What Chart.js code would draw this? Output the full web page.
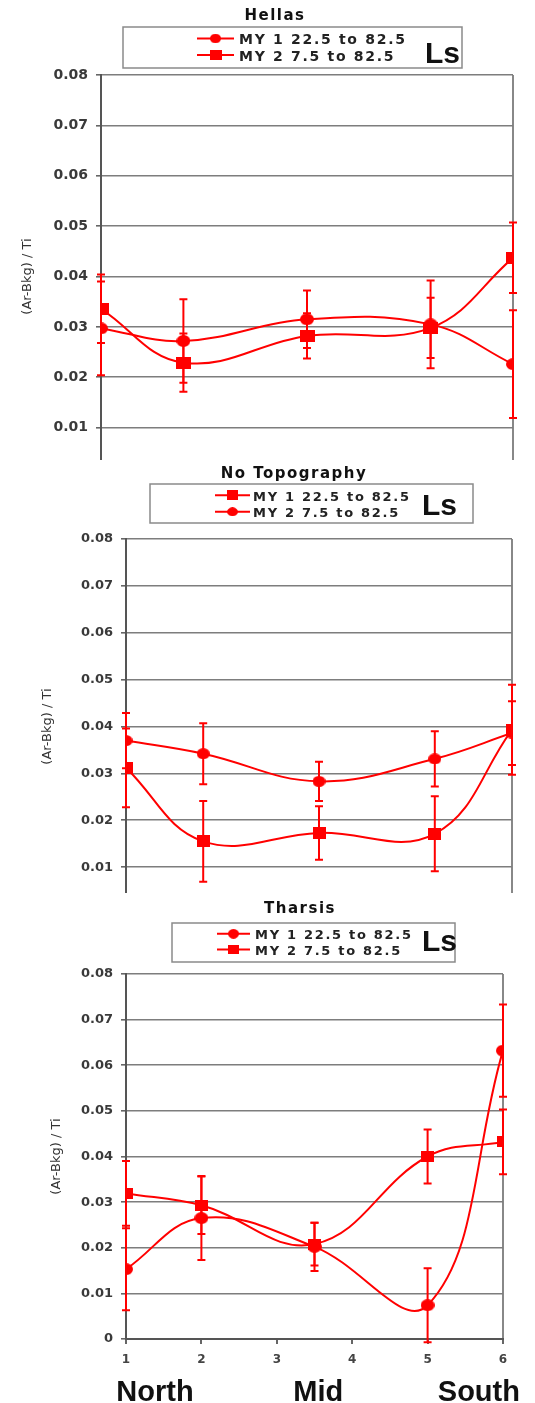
<!DOCTYPE html>
<html>
<head>
<meta charset="utf-8">
<script src="https://cdn.jsdelivr.net/npm/chart.js@4/dist/chart.umd.min.js"></script>
<style>
html,body{margin:0;padding:0;background:#fff;}
body{width:535px;height:1403px;position:relative;overflow:hidden;}
.panel{position:absolute;left:0;width:535px;overflow:hidden;}
.panel canvas{position:absolute;left:0;top:0;}
</style>
</head>
<body>
<div class="panel" style="top:0;height:460px"><canvas id="c1" width="535" height="542"></canvas></div>
<div class="panel" style="top:460px;height:433px"><canvas id="c2" width="535" height="518"></canvas></div>
<div class="panel" style="top:900px;height:503px"><canvas id="c3" width="535" height="503"></canvas></div>
<script>
// ---------- data ----------
const xPositions = [1, 2, 3.5, 5, 6];
const xTickLabels = ['1', '2', '3', '4', '5', '6'];
const regionLabels = ['North', 'Mid', 'South'];
const panelTitles = ['Hellas', 'No Topography', 'Tharsis'];
const seriesNames = ['MY 1 22.5 to 82.5', 'MY 2 7.5 to 82.5'];
const legendUnit = 'Ls';
const yAxisTitle = '(Ar-Bkg) / Ti';

const hellasMY1    = [0.0297, 0.0272, 0.0315, 0.0305, 0.0226];
const hellasMY1Err = [0.0093, 0.0083, 0.0057, 0.0087, 0.0107];
const hellasMY2    = [0.0336, 0.0229, 0.0282, 0.0298, 0.0437];
const hellasMY2Err = [0.0068, 0.0058, 0.0045, 0.0060, 0.0070];

const noTopoMY1    = [0.0312, 0.0155, 0.0173, 0.0171, 0.0393];
const noTopoMY1Err = [0.0084, 0.0086, 0.0057, 0.0080, 0.0096];
const noTopoMY2    = [0.0370, 0.0342, 0.0283, 0.0331, 0.0386];
const noTopoMY2Err = [0.0059, 0.0065, 0.0042, 0.0059, 0.0068];

const tharsisMY1    = [0.0153, 0.0265, 0.0202, 0.0074, 0.0632];
const tharsisMY1Err = [0.0090, 0.0092, 0.0053, 0.0081, 0.0101];
const tharsisMY2    = [0.0319, 0.0293, 0.0208, 0.0400, 0.0432];
const tharsisMY2Err = [0.0071, 0.0063, 0.0047, 0.0059, 0.0071];

// ---------- styles ----------
const RED = '#ff0000';
function makeMarker(shape, w, h) {
  const c = document.createElement('canvas');
  c.width = w; c.height = h;
  const g = c.getContext('2d');
  g.fillStyle = RED;
  if (shape === 'rect') { g.fillRect(0, 0, w, h); }
  else { g.beginPath(); g.ellipse(w / 2, h / 2, w / 2, h / 2, 0, 0, Math.PI * 2); g.fill(); }
  return c;
}

const errorBarPlugin = {
  id: 'errorBars',
  beforeDatasetsDraw(chart, args, opts) {
    const {ctx, scales: {x, y}} = chart;
    ctx.save();
    chart.data.datasets.forEach(ds => {
      ctx.strokeStyle = ds.borderColor;
      ctx.lineWidth = 2;
      ds.data.forEach((pt, i) => {
        const e = ds.errors[i];
        const px = x.getPixelForValue(pt.x);
        const yt = y.getPixelForValue(pt.y + e);
        const yb = y.getPixelForValue(pt.y - e);
        ctx.beginPath();
        ctx.moveTo(px, yt); ctx.lineTo(px, yb);
        ctx.moveTo(px - 4, yt); ctx.lineTo(px + 4, yt);
        ctx.moveTo(px - 4, yb); ctx.lineTo(px + 4, yb);
        ctx.stroke();
      });
    });
    ctx.restore();
  }
};

const decoPlugin = {
  id: 'deco',
  afterDraw(chart, args, o) {
    const ctx = chart.ctx;
    ctx.save();
    // panel title
    ctx.fillStyle = '#111';
    ctx.font = 'bold 15px "DejaVu Sans"';
    ctx.letterSpacing = '1.5px';
    ctx.textAlign = 'center';
    ctx.textBaseline = 'alphabetic';
    ctx.fillText(o.title, o.titleX, o.titleY);
    // legend box
    const [bx1, by1, bx2, by2] = o.box;
    ctx.strokeStyle = '#8a8a8a';
    ctx.lineWidth = 1.5;
    ctx.strokeRect(bx1, by1, bx2 - bx1, by2 - by1);
    // legend rows
    chart.data.datasets.forEach((ds, i) => {
      const base = o.rows[i];
      const cy = base - 5.5;
      ctx.strokeStyle = ds.borderColor;
      ctx.lineWidth = 2;
      ctx.beginPath();
      ctx.moveTo(o.markerX[0], cy); ctx.lineTo(o.markerX[1], cy);
      ctx.stroke();
      const img = ds.pointStyle;
      const w = img.width * 0.8, h = img.height * 0.8;
      ctx.drawImage(img, (o.markerX[0] + o.markerX[1]) / 2 - w / 2, cy - h / 2, w, h);
      ctx.font = 'bold ' + o.textSize + 'px "DejaVu Sans"';
      ctx.letterSpacing = '1.7px';
      ctx.textAlign = 'left';
      ctx.fillStyle = '#222';
      ctx.fillText(ds.label, o.textX, base);
    });
    // unit
    ctx.letterSpacing = '0px';
    ctx.font = 'bold 30px "Liberation Sans"';
    ctx.fillStyle = '#111';
    ctx.textAlign = 'left';
    ctx.fillText(legendUnit, o.lsX, o.lsY);
    // region labels under x axis
    if (o.regions) {
      const x = chart.scales.x;
      ctx.font = 'bold 29px "Liberation Sans"';
      ctx.textAlign = 'center';
      regionLabels.forEach((t, i) => {
        ctx.fillText(t, x.getPixelForValue(o.regions[i]), o.regionY);
      });
    }
    ctx.restore();
  }
};

function toPoints(vals) { return vals.map((v, i) => ({x: xPositions[i], y: v})); }

function buildChart(cfg) {
  const datasets = cfg.series.map((s, i) => ({
    label: seriesNames[i],
    data: toPoints(s.values),
    errors: s.errors,
    borderColor: RED,
    backgroundColor: RED,
    borderWidth: 2,
    tension: 0.4,
    pointStyle: s.marker,
    pointRadius: 6,
    pointHoverRadius: 6,
    showLine: true,
    fill: false
  }));
  return new Chart(document.getElementById(cfg.id), {
    type: 'scatter',
    data: {datasets},
    plugins: [errorBarPlugin, decoPlugin],
    options: {
      responsive: false,
      animation: false,
      events: [],
      layout: {padding: cfg.padding},
      plugins: {
        legend: {display: false},
        tooltip: {enabled: false},
        deco: cfg.deco
      },
      scales: {
        x: {
          type: 'linear',
          min: 1, max: 6,
          afterFit: s => { s.height = 30; },
          ticks: {
            stepSize: 1,
            padding: 9,
            color: '#444',
            font: {family: 'DejaVu Sans', size: 12, weight: 'bold'},
            callback: v => xTickLabels[v - 1]
          },
          grid: {
            color: c => (c.tick && c.tick.value === 6) ? '#888' : 'rgba(0,0,0,0)',
            lineWidth: 2,
            tickColor: '#666',
            tickLength: 5
          },
          border: {color: '#555', width: 2}
        },
        y: {
          min: 0, max: 0.08,
          afterFit: s => { s.width = cfg.yWidth; },
          ticks: {
            stepSize: 0.01,
            padding: 8,
            color: '#3a3a3a',
            font: {family: 'DejaVu Sans', size: cfg.tickSize, weight: 'bold'},
            callback: v => (Math.abs(v) < 1e-9 ? '0' : v.toFixed(2))
          },
          grid: {color: '#7d7d7d', lineWidth: 1.6, tickColor: '#666', tickLength: 5},
          border: {color: '#555', width: 2},
          title: {
            display: true,
            text: yAxisTitle,
            color: '#333',
            font: {family: 'DejaVu Sans', size: 13},
            padding: {top: cfg.yTitlePad, bottom: 0}
          }
        }
      }
    }
  });
}

buildChart({
  id: 'c1', yWidth: 101, tickSize: 14, yTitlePad: 20,
  padding: {top: 75, right: 22, bottom: 34, left: 0},
  series: [
    {values: hellasMY1, errors: hellasMY1Err, marker: makeMarker('ellipse', 14, 12)},
    {values: hellasMY2, errors: hellasMY2Err, marker: makeMarker('rect', 15, 12)}
  ],
  deco: {title: panelTitles[0], titleX: 275, titleY: 20, box: [123, 27, 462, 68],
         rows: [44, 60.5], markerX: [197, 234], textX: 239, textSize: 14, lsX: 425, lsY: 63}
});

buildChart({
  id: 'c2', yWidth: 126, tickSize: 13, yTitlePad: 40,
  padding: {top: 79, right: 23, bottom: 34, left: 0},
  series: [
    {values: noTopoMY1, errors: noTopoMY1Err, marker: makeMarker('rect', 13, 12)},
    {values: noTopoMY2, errors: noTopoMY2Err, marker: makeMarker('ellipse', 13, 11)}
  ],
  deco: {title: panelTitles[1], titleX: 294, titleY: 18, box: [150, 24, 473, 63],
         rows: [40.7, 57.3], markerX: [215, 250], textX: 253, textSize: 13, lsX: 422, lsY: 55}
});

buildChart({
  id: 'c3', yWidth: 126, tickSize: 13, yTitlePad: 49,
  padding: {top: 74, right: 32, bottom: 34, left: 0},
  series: [
    {values: tharsisMY1, errors: tharsisMY1Err, marker: makeMarker('ellipse', 14, 12)},
    {values: tharsisMY2, errors: tharsisMY2Err, marker: makeMarker('rect', 13, 11)}
  ],
  deco: {title: panelTitles[2], titleX: 300, titleY: 12.7, box: [172, 23, 455, 62],
         rows: [39.3, 55], markerX: [217, 250], textX: 255, textSize: 13, lsX: 422, lsY: 51,
         regions: [1.385, 3.55, 5.68], regionY: 501}
});
</script>
</body>
</html>
